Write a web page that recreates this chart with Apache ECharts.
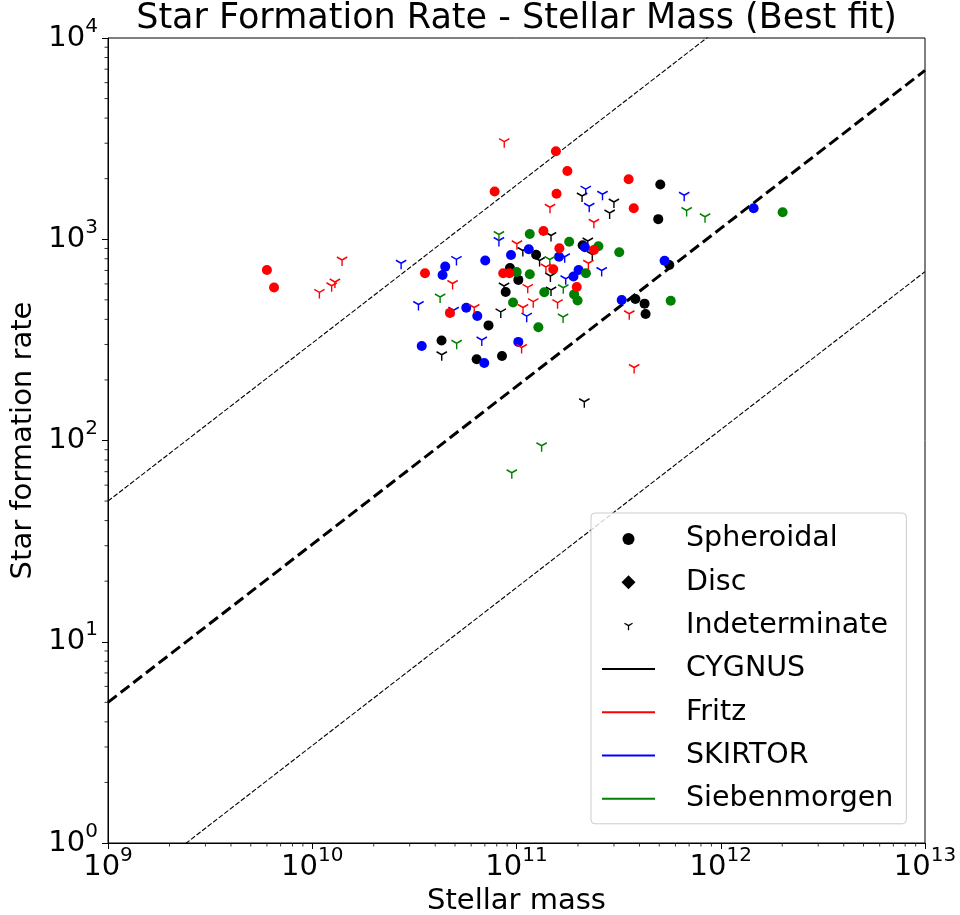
<!DOCTYPE html>
<html>
<head>
<meta charset="utf-8">
<script src="https://cdn.jsdelivr.net/npm/echarts@6/dist/echarts.min.js"></script>
<style>
html,body{margin:0;padding:0;background:#fff;}
#chart{width:960px;height:915px;}
</style>
</head>
<body>
<div id="chart"></div>
<script>
// ---- Data: [log10(stellar mass), log10(star formation rate)] ----
const cygnusSpheroidal = [
  [11.704,3.272],[11.694,3.100],[10.968,2.857],[11.009,2.798],[10.947,2.738],[10.863,2.572],
  [10.633,2.497],[10.805,2.404],[10.929,2.420],[11.096,2.923],[11.324,2.970],[11.748,2.872],
  [11.582,2.703],[11.627,2.680],[11.632,2.629]];
const cygnusIndeterminate = [
  [11.321,3.215],[11.477,3.185],[11.456,3.130],[11.169,3.019],[11.349,2.991],[11.371,2.924],
  [11.031,2.944],[11.113,2.894],[11.166,2.817],[10.939,2.768],[11.169,2.748],[10.923,2.639],
  [10.634,2.426],[11.332,2.193]];
const fritzSpheroidal = [
  [9.778,2.847],[9.813,2.760],[10.552,2.831],[10.674,2.634],[11.193,3.437],[11.249,3.339],
  [10.893,3.237],[11.196,3.226],[11.549,3.298],[11.574,3.154],[11.132,3.041],[11.210,2.955],
  [11.379,2.947],[10.935,2.831],[10.965,2.831],[11.180,2.851],[11.295,2.763]];
const fritzIndeterminate = [
  [10.146,2.897],[10.111,2.788],[10.095,2.769],[10.035,2.736],[10.687,2.780],[10.793,2.661],
  [10.940,3.485],[11.164,3.159],[11.379,3.084],[11.002,2.978],[11.352,2.881],[11.144,2.862],
  [11.055,2.761],[11.082,2.690],[11.201,2.685],[11.032,2.661],[11.025,2.462],[11.552,2.630],
  [11.576,2.363]];
const skirtorSpheroidal = [
  [10.651,2.864],[10.638,2.822],[10.754,2.660],[10.847,2.894],[10.973,2.922],[11.060,2.950],
  [10.808,2.619],[10.536,2.470],[10.842,2.385],[11.009,2.490],[11.335,2.960],[11.208,2.913],
  [11.304,2.847],[11.279,2.815],[11.725,2.893],[11.515,2.698],[12.161,3.154]];
const skirtorIndeterminate = [
  [10.435,2.881],[10.706,2.900],[10.520,2.676],[10.692,2.647],[10.914,2.994],[11.050,2.618],
  [10.830,2.499],[11.339,3.249],[11.421,3.224],[11.356,3.164],[11.236,2.913],[11.417,2.845],
  [11.241,2.804],[11.821,3.219]];
const siebenmorgenSpheroidal = [
  [11.065,3.026],[11.258,2.988],[11.401,2.965],[11.503,2.935],[11.001,2.837],[11.065,2.826],
  [11.340,2.831],[11.136,2.737],[11.282,2.726],[11.299,2.696],[10.983,2.686],[11.107,2.563],
  [11.755,2.694],[12.303,3.134]];
const siebenmorgenIndeterminate = [
  [10.626,2.713],[10.914,3.024],[11.163,2.899],[11.229,2.759],[11.228,2.614],[10.707,2.483],
  [11.123,1.974],[10.977,1.840],[11.833,3.143],[11.923,3.112]];
const discPoints = []; // no Disc galaxies plotted

const models = ['CYGNUS', 'Fritz', 'SKIRTOR', 'Siebenmorgen'];
const modelColors = ['#000000', '#ff0000', '#0000ff', '#008000'];
const morphologies = ['Spheroidal', 'Disc', 'Indeterminate'];

// best-fit relation: SFR = fitNorm * (M / 1e9)^fitSlope, with x10 and /10 bands
const fitNorm = 5;
const fitSlope = 0.785;
const fitBand = 10;

const xTickValues = [1e9, 1e10, 1e11, 1e12, 1e13];
const yTickValues = [1e0, 1e1, 1e2, 1e3, 1e4];

// ---------------------------------------------------------------
const FONT = 'DejaVu Sans';
const triPath = 'path://M0,-10M0,0L0,10M0,0L-8.66,-5M0,0L8.66,-5';
const legendCircle = 'path://M-7,-7M7,7M6,0A6,6,0,1,1,-6,0A6,6,0,1,1,6,0Z';
const legendDiamond = 'path://M-7,-7M7,7M0,-7L7,0L0,7L-7,0Z';
const legendTri = 'path://M-12,-12M12,12M0,0L0,8M0,0L-6.93,-4M0,0L6.93,-4';
const legendLine = 'path://M0,-1L53,-1L53,1L0,1Z';

function toValues(arr) { return arr.map(p => [Math.pow(10, p[0]), Math.pow(10, p[1])]); }
function fitLine(factor) {
  return xTickValues.map(m => [m, fitNorm * factor * Math.pow(m / 1e9, fitSlope)]);
}
function powLabel(v) {
  const e = Math.round(Math.log10(v));
  return '{s|}{b|10}{s|' + e + '}';
}
const richLabel = {
  b: { fontFamily: FONT, fontSize: 29, color: '#000', padding: [7, 0, 7, 0] },
  s: { fontFamily: FONT, fontSize: 20, color: '#000', verticalAlign: 'top' }
};

// minor ticks (2..9 x 10^n) for both log axes
const minorTicks = [];
for (let e = 9; e < 13; e++) for (let k = 2; k <= 9; k++) minorTicks.push([k * Math.pow(10, e), 1, 0]);
for (let e = 0; e < 4; e++) for (let k = 2; k <= 9; k++) minorTicks.push([1e9, k * Math.pow(10, e), 1]);

const dataSets = [
  [cygnusSpheroidal, cygnusIndeterminate],
  [fritzSpheroidal, fritzIndeterminate],
  [skirtorSpheroidal, skirtorIndeterminate],
  [siebenmorgenSpheroidal, siebenmorgenIndeterminate]
];

const series = [];
// fit lines
series.push({
  type: 'line', name: 'fit', data: fitLine(1), symbol: 'none', clip: true, silent: true, z: 2,
  lineStyle: { color: '#000', width: 3, type: [11, 5] }
});
series.push({
  type: 'line', name: 'fitUp', data: fitLine(fitBand), symbol: 'none', clip: true, silent: true, z: 2,
  lineStyle: { color: '#000', width: 1.1, type: [5, 2] }
});
series.push({
  type: 'line', name: 'fitLow', data: fitLine(1 / fitBand), symbol: 'none', clip: true, silent: true, z: 2,
  lineStyle: { color: '#000', width: 1.1, type: [5, 2] }
});
// scatter points
const drawOrder = [0, 2, 3, 1];
drawOrder.forEach(i => {
  const c = modelColors[i];
  series.push({
    type: 'scatter', name: models[i] + ' sph', data: toValues(dataSets[i][0]),
    symbol: 'circle', symbolSize: 10, z: 3, itemStyle: { color: c, opacity: 1 }
  });
  series.push({
    type: 'scatter', name: models[i] + ' disc', data: toValues(discPoints),
    symbol: 'diamond', symbolSize: 11, z: 3, itemStyle: { color: c, opacity: 1 }
  });
  series.push({
    type: 'scatter', name: models[i] + ' ind', data: toValues(dataSets[i][1]),
    symbol: triPath, symbolSize: [10.4, 12], z: 3,
    itemStyle: { color: c, borderColor: c, borderWidth: 1.5, opacity: 1 }
  });
});
// legend-only series
series.push({ type: 'scatter', name: 'Spheroidal', data: [], symbol: 'circle', itemStyle: { color: '#000', opacity: 1 } });
series.push({ type: 'scatter', name: 'Disc', data: [], symbol: 'diamond', itemStyle: { color: '#000', opacity: 1 } });
series.push({ type: 'scatter', name: 'Indeterminate', data: [], symbol: triPath,
  itemStyle: { color: '#000', borderColor: '#000', borderWidth: 1.3, opacity: 1 } });
models.forEach((m, i) => {
  series.push({ type: 'line', name: m, data: [], symbol: 'none',
    lineStyle: { color: modelColors[i], width: 2 }, itemStyle: { color: modelColors[i] } });
});
// minor ticks
series.push({
  type: 'custom', name: 'minorTicks', data: minorTicks, silent: true, clip: false, z: 5,
  encode: { x: 0, y: 1 },
  renderItem: function (params, api) {
    const kind = api.value(2);
    const p = api.coord([api.value(0), api.value(1)]);
    if (kind === 0) {
      return { type: 'line', shape: { x1: p[0], y1: p[1], x2: p[0], y2: p[1] + 3.5 },
        style: { stroke: '#000', lineWidth: 0.8 } };
    }
    return { type: 'line', shape: { x1: p[0] - 3.5, y1: p[1], x2: p[0], y2: p[1] },
      style: { stroke: '#000', lineWidth: 0.8 } };
  }
});

const legendData = [
  { name: 'Spheroidal', icon: legendCircle, itemStyle: { color: '#000', opacity: 1, borderWidth: 0 } },
  { name: 'Disc', icon: legendDiamond, itemStyle: { color: '#000', opacity: 1, borderWidth: 0 } },
  { name: 'Indeterminate', icon: legendTri, itemStyle: { color: '#000', borderColor: '#000', borderWidth: 1.3, opacity: 1 } }
].concat(models.map((m, i) => ({ name: m, icon: legendLine,
  itemStyle: { color: modelColors[i], opacity: 1, borderWidth: 0 } })));

const option = {
  animation: false,
  backgroundColor: '#fff',
  title: {
    text: 'Star Formation Rate - Stellar Mass (Best fit)',
    left: 516.5, top: 1, textAlign: 'center', padding: 0,
    textStyle: { fontFamily: FONT, fontSize: 35, fontWeight: 'normal', color: '#000' }
  },
  grid: {
    left: 108, right: 35, top: 38, bottom: 72, containLabel: false, outerBoundsMode: 'none',
    show: true, borderColor: '#000', borderWidth: 1, backgroundColor: 'transparent'
  },
  legend: {
    orient: 'vertical', left: 591, top: 513,
    data: legendData,
    itemWidth: 53, itemHeight: 14, itemGap: 13.3,
    padding: [11, 13, 10, 11],
    backgroundColor: 'rgba(255,255,255,0.8)', borderColor: '#cccccc', borderWidth: 1, borderRadius: 4,
    textStyle: { fontFamily: FONT, fontSize: 28.5, color: '#000', lineHeight: 30, padding: [0, 0, 0, 26] },
    selectedMode: false
  },
  xAxis: {
    type: 'log', logBase: 10, min: 1e9, max: 1e13, splitNumber: 4,
    name: 'Stellar mass', nameLocation: 'middle', nameGap: 37,
    nameTextStyle: { fontFamily: FONT, fontSize: 29, color: '#000' },
    axisLine: { show: true, lineStyle: { color: '#000', width: 1 } },
    axisTick: { show: true, inside: false, length: 6, lineStyle: { color: '#000', width: 1 } },
    axisLabel: { show: true, margin: 3, formatter: powLabel, rich: richLabel, color: '#000' },
    splitLine: { show: false }, minorTick: { show: false }, minorSplitLine: { show: false }
  },
  yAxis: {
    type: 'log', logBase: 10, min: 1, max: 1e4, splitNumber: 4,
    name: 'Star formation rate', nameLocation: 'middle', nameGap: 66,
    nameTextStyle: { fontFamily: FONT, fontSize: 29, color: '#000' },
    axisLine: { show: true, lineStyle: { color: '#000', width: 1 } },
    axisTick: { show: true, inside: false, length: 6, lineStyle: { color: '#000', width: 1 } },
    axisLabel: { show: true, margin: 10, formatter: powLabel, rich: richLabel, color: '#000' },
    splitLine: { show: false }, minorTick: { show: false }, minorSplitLine: { show: false }
  },
  series: series
};

const chart = echarts.init(document.getElementById('chart'), null, { renderer: 'canvas' });
chart.setOption(option);
</script>
</body>
</html>
